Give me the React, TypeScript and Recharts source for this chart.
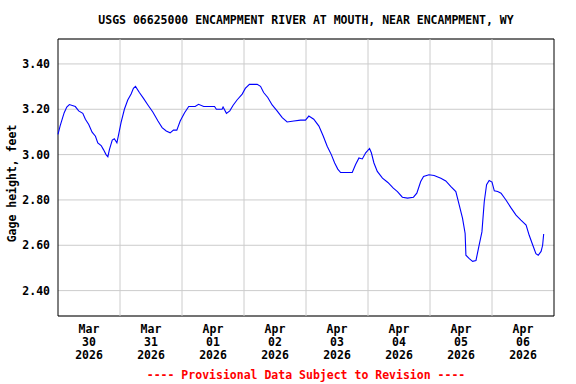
import React from 'react';
import { LineChart, Line, XAxis, YAxis, CartesianGrid, ReferenceLine, ReferenceArea } from 'recharts';

// hours since Mar 30 2026 00:00
const hours = [0, 0.8, 1.8, 2.4, 3.4, 4.4, 6.7, 8.0, 9.6, 10.6, 11.9, 13.2, 14.5, 15.4, 16.7, 17.6, 18.6, 19.3, 19.9, 21.0,
    21.8, 22.8, 23.6, 24.4, 25.7, 27.0, 28.3, 29.2, 30.0, 31.5, 33.1, 34.8, 36.7, 38.7, 40.3, 41.9, 43.4, 44.7, 46.0, 47.3,
    49.0, 49.9, 50.6, 53.1, 54.4, 56.4, 60.6, 61.3, 63.5, 63.9, 65.2, 66.5, 67.8, 69.3, 71.3, 72.5, 74.1, 77.1, 78.4, 79.6,
    81.2, 82.9, 84.8, 86.8, 88.7, 91.3, 93.9, 95.8, 97.1, 99.0, 101.0, 102.7, 104.2, 105.8, 107.1, 108.3, 109.4, 113.9, 115.2, 116.5,
    117.8, 119.1, 120.6, 121.3, 122.3, 123.6, 125.6, 127.7, 129.8, 131.4, 133.3, 135.3, 137.6, 138.9, 140.4, 141.5, 143.6, 145.6, 148.2, 150.1,
    152.1, 154.0, 155.3, 156.6, 157.6, 157.9, 159.2, 160.5, 161.8, 163.0, 164.1, 165.0, 165.9, 166.9, 168.0, 168.9, 170.2, 171.5, 173.4, 175.3,
    177.3, 179.2, 181.2, 182.4, 183.8, 185.0, 185.9, 187.0, 187.6, 188.0];

const gageHeight = [3.089, 3.126, 3.163, 3.185, 3.21, 3.221, 3.212, 3.193, 3.182, 3.156, 3.133, 3.099, 3.081, 3.052, 3.04, 3.022, 3.00, 2.99, 3.022, 3.064,
    3.07, 3.052, 3.096, 3.141, 3.20, 3.241, 3.267, 3.292, 3.301, 3.274, 3.248, 3.219, 3.188, 3.148, 3.119, 3.104, 3.096, 3.108, 3.108, 3.148,
    3.185, 3.20, 3.212, 3.212, 3.222, 3.212, 3.212, 3.20, 3.20, 3.21, 3.182, 3.193, 3.218, 3.241, 3.267, 3.292, 3.31, 3.31, 3.301, 3.274,
    3.252, 3.219, 3.193, 3.163, 3.144, 3.148, 3.152, 3.152, 3.170, 3.156, 3.126, 3.081, 3.037, 3.00, 2.963, 2.936, 2.921, 2.921, 2.956, 2.985,
    2.981, 3.008, 3.027, 3.008, 2.963, 2.926, 2.896, 2.877, 2.852, 2.837, 2.812, 2.808, 2.812, 2.83, 2.881, 2.904, 2.911, 2.908, 2.896, 2.884,
    2.859, 2.837, 2.778, 2.719, 2.652, 2.556, 2.541, 2.529, 2.533, 2.60, 2.659, 2.792, 2.867, 2.886, 2.879, 2.84, 2.837, 2.83, 2.80, 2.766,
    2.733, 2.711, 2.689, 2.644, 2.60, 2.563, 2.556, 2.573, 2.60, 2.65];

const tickMonths = ['Mar', 'Mar', 'Apr', 'Apr', 'Apr', 'Apr', 'Apr', 'Apr'];
const tickDays = ['30', '31', '01', '02', '03', '04', '05', '06'];
const tickYear = '2026';
const labelHours = [12, 36, 60, 84, 108, 132, 156, 180];
const midnightHours = [24, 48, 72, 96, 120, 144, 168];
const yTicks = [2.4, 2.6, 2.8, 3.0, 3.2, 3.4];

const data = hours.map((h, i) => ({ h, v: gageHeight[i] }));

const FONT = '"DejaVu Sans Mono", monospace';
const xMax = 192;
const yMin = 2.288;
const yMax = 3.51;

const DateTick = (props: any) => {
    const { x, y, index } = props;
    return (
        <text x={x} y={y} textAnchor="middle" fontFamily={FONT} fontWeight="bold" fontSize={11.5} fill="#000">
            <tspan x={x} dy={9}>{tickMonths[index]}</tspan>
            <tspan x={x} dy={13}>{tickDays[index]}</tspan>
            <tspan x={x} dy={13}>{tickYear}</tspan>
        </text>
    );
};

const YLabel = (props: any) => {
    const { viewBox } = props;
    const cx = viewBox.x + 4;
    const cy = viewBox.y + viewBox.height / 2 + 6;
    return (
        <text x={cx} y={cy} transform={`rotate(-90, ${cx}, ${cy})`} textAnchor="middle" dominantBaseline="central"
            fontFamily={FONT} fontWeight="bold" fontSize={11.5} fill="#000">
            Gage height, feet
        </text>
    );
};

export default function App() {
    return (
        <div style={{ position: 'absolute', left: 0, top: 0, width: 576, height: 384, background: '#fff', fontFamily: FONT }}>
            <div style={{ position: 'absolute', left: 0, width: 612, top: 13, textAlign: 'center', fontWeight: 'bold', fontSize: 11.5 }}>
                USGS 06625000 ENCAMPMENT RIVER AT MOUTH, NEAR ENCAMPMENT, WY
            </div>
            <LineChart width={576} height={384} data={data} margin={{ top: 39, right: 22, left: 8, bottom: 18 }}>
                <CartesianGrid vertical={false} stroke="#cccccc" />
                {midnightHours.map((m) => (
                    <ReferenceLine key={m} x={m} stroke="#cccccc" />
                ))}
                <XAxis
                    dataKey="h"
                    type="number"
                    domain={[0, xMax]}
                    ticks={labelHours}
                    tick={<DateTick />}
                    tickLine={false}
                    axisLine={false}
                    height={50}
                    interval={0}
                />
                <YAxis
                    type="number"
                    domain={[yMin, yMax]}
                    ticks={yTicks}
                    allowDataOverflow
                    tickFormatter={(v: number) => v.toFixed(2)}
                    tickLine={false}
                    axisLine={false}
                    tickMargin={2}
                    width={50}
                    tick={{ fontFamily: FONT, fontWeight: 'bold', fontSize: 11.5, fill: '#000' }}
                    label={<YLabel />}
                />
                <Line type="linear" dataKey="v" stroke="#0000ff" strokeWidth={1.1} dot={false} isAnimationActive={false} />
                <ReferenceArea x1={0} x2={xMax} y1={yMin} y2={yMax} fill="none" stroke="#000" strokeWidth={1} ifOverflow="visible" />
            </LineChart>
            <div style={{ position: 'absolute', left: 0, width: 612, top: 368, textAlign: 'center', fontWeight: 'bold', fontSize: 11.5, color: '#ff0000' }}>
                ---- Provisional Data Subject to Revision ----
            </div>
        </div>
    );
}
